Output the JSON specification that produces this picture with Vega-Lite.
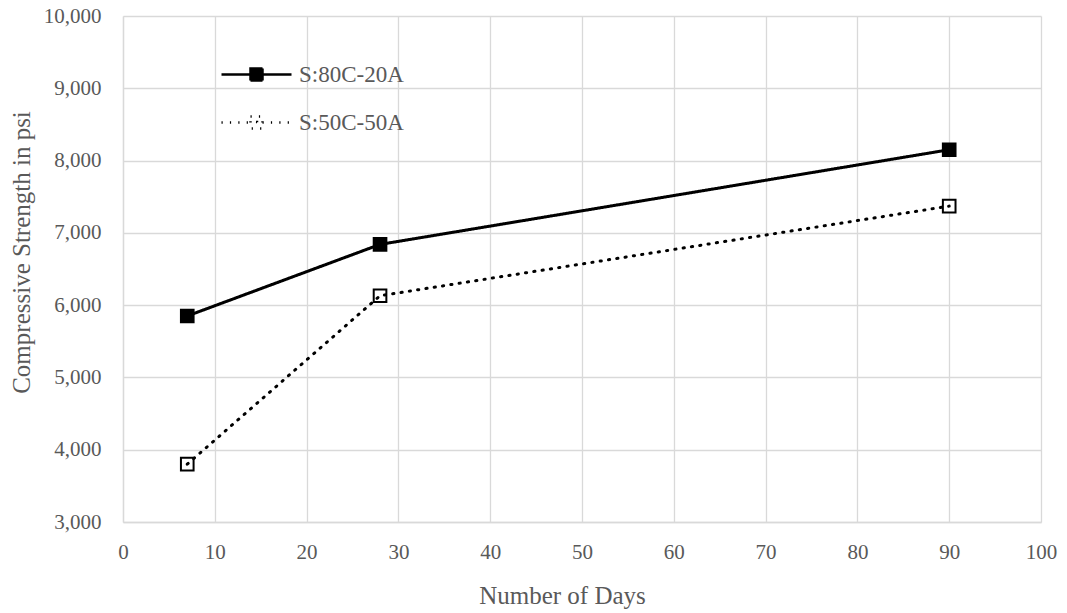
{
  "$schema": "https://vega.github.io/schema/vega-lite/v6.json",
  "autosize": "none",
  "width": 918,
  "height": 506,
  "padding": {"left": 123, "top": 16, "right": 26, "bottom": 91},
  "background": "white",
  "config": {
    "view": {"stroke": null},
    "font": "Liberation Serif",
    "axis": {
      "labelFont": "Liberation Serif",
      "labelFontSize": 21,
      "labelColor": "#595959",
      "titleFont": "Liberation Serif",
      "titleFontSize": 25,
      "titleFontWeight": "normal",
      "titleColor": "#595959",
      "gridColor": "#d9d9d9",
      "gridWidth": 1.3,
      "domainColor": "#d9d9d9",
      "domainWidth": 1.3,
      "ticks": false,
      "tickSize": 0,
      "labelFlush": false
    }
  },
  "data": {
    "values": [
      {"days": 7, "strength": 5850, "series": "S:80C-20A"},
      {"days": 28, "strength": 6840, "series": "S:80C-20A"},
      {"days": 90, "strength": 8150, "series": "S:80C-20A"},
      {"days": 7, "strength": 3800, "series": "S:50C-50A"},
      {"days": 28, "strength": 6130, "series": "S:50C-50A"},
      {"days": 90, "strength": 7370, "series": "S:50C-50A"}
    ]
  },
  "encoding": {
    "x": {
      "field": "days",
      "type": "quantitative",
      "scale": {"domain": [0, 100], "nice": false},
      "axis": {
        "title": "Number of Days",
        "values": [0, 10, 20, 30, 40, 50, 60, 70, 80, 90, 100],
        "labelPadding": 19,
        "titleX": 439,
        "titleY": 61
      }
    },
    "y": {
      "field": "strength",
      "type": "quantitative",
      "scale": {"domain": [3000, 10000], "nice": false, "zero": false},
      "axis": {
        "title": "Compressive Strength in psi",
        "values": [3000, 4000, 5000, 6000, 7000, 8000, 9000, 10000],
        "format": ",d",
        "labelPadding": 22,
        "titleX": -89,
        "titleY": 236
      }
    }
  },
  "layer": [
    {
      "mark": {"type": "point", "shape": "square", "filled": true, "size": 160, "stroke": "black", "strokeWidth": 2, "opacity": 1},
      "encoding": {
        "fill": {
          "field": "series",
          "type": "nominal",
          "scale": {"domain": ["S:80C-20A", "S:50C-50A"], "range": ["black", "white"]},
          "legend": {
            "title": null,
            "orient": "none",
            "legendX": 122,
            "legendY": 47,
            "padding": 0,
            "rowPadding": 24,
            "labelFont": "Liberation Serif",
            "labelFontSize": 23,
            "labelColor": "#595959",
            "labelOffset": 31,
            "symbolType": "M-35,0H-6M6,0H35M-6,-6H6V6H-6ZM-0.5,-0.5H0.5V0.5H-0.5Z",
            "symbolSize": 4,
            "symbolStrokeWidth": 2.5,
            "symbolStrokeColor": "black",
            "symbolOpacity": 1
          }
        }
      }
    },
    {
      "mark": {"type": "line", "color": "black", "strokeWidth": 3, "strokeCap": "round"},
      "encoding": {
        "strokeDash": {
          "field": "series",
          "type": "nominal",
          "scale": {"domain": ["S:80C-20A", "S:50C-50A"], "range": [[1, 0], [1.2, 7.2]]},
          "legend": null
        }
      }
    }
  ]
}
